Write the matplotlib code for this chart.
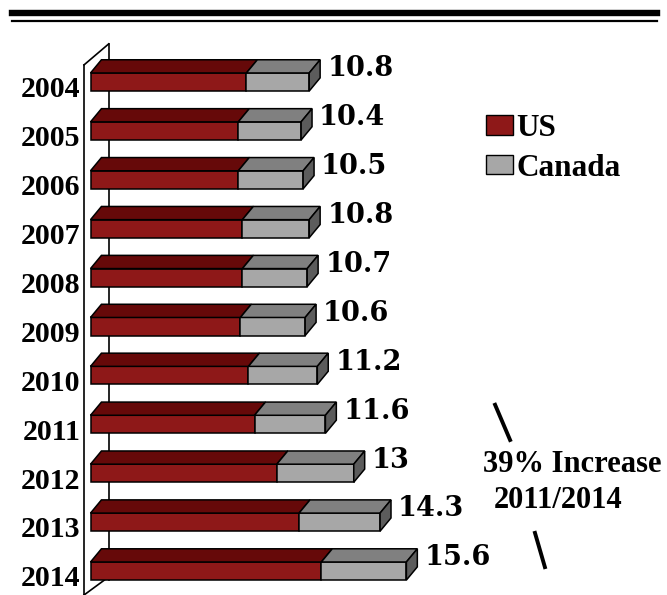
import matplotlib.pyplot as plt
from matplotlib.patches import Polygon, Patch
from matplotlib.lines import Line2D

years = ['2004', '2005', '2006', '2007', '2008', '2009', '2010', '2011', '2012', '2013', '2014']
us = [7.7, 7.3, 7.3, 7.5, 7.5, 7.4, 7.8, 8.1, 9.2, 10.3, 11.4]
canada = [3.1, 3.1, 3.2, 3.3, 3.2, 3.2, 3.4, 3.5, 3.8, 4.0, 4.2]
totals = [10.8, 10.4, 10.5, 10.8, 10.7, 10.6, 11.2, 11.6, 13, 14.3, 15.6]

# colours of the fake 3d faces
red_front, red_top = '#8e1818', '#660909'
grey_front, grey_top, grey_side = '#a7a7a7', '#808080', '#5c5c5c'

# depth of the bars in data units
dx, dy = 0.54, 0.27
h = 0.37

fig = plt.figure(figsize=(6.67, 5.95), dpi=100)
ax = fig.add_axes([0, 0, 1, 1])
ax.set_xlim(-4.47, 28.47)
ax.set_ylim(10.49, -1.677)
ax.axis('off')

# left wall of the 3d chart
ax.plot([-0.32, -0.32], [-0.35, 10.49], color='black', lw=1.2, zorder=1)
ax.plot([0.9, 0.9], [-0.78, 10.18], color='black', lw=1.2, zorder=1)
ax.plot([-0.32, 0.9], [-0.35, -0.78], color='black', lw=1.2, zorder=1)
ax.plot([-0.32, 0.7], [10.49, 10.18], color='black', lw=1.2, zorder=1)


def face(pts, color):
    ax.add_patch(Polygon(pts, closed=True, facecolor=color, edgecolor='black',
                         lw=1.1, zorder=3))


for i, yr in enumerate(years):
    top, bot = i - h / 2, i + h / 2
    u, t = us[i], totals[i]
    # front faces
    face([(0, top), (u, top), (u, bot), (0, bot)], red_front)
    face([(u, top), (t, top), (t, bot), (u, bot)], grey_front)
    # top faces
    face([(0, top), (u, top), (u + dx, top - dy), (dx, top - dy)], red_top)
    face([(u, top), (t, top), (t + dx, top - dy), (u + dx, top - dy)], grey_top)
    # right side
    face([(t, top), (t, bot), (t + dx, bot - dy), (t + dx, top - dy)], grey_side)

    ax.text(-0.5, i + 0.16, yr, ha='right', va='center', fontsize=21.5,
            fontweight='bold', family='Liberation Serif')
    ax.text(t + dx + 0.35, i - 0.27, f'{t:g}', ha='left', va='center',
            fontsize=19.5, fontweight='bold', family='DejaVu Serif')

# legend
handles = [Patch(facecolor=red_front, edgecolor='black', label='US'),
           Patch(facecolor=grey_front, edgecolor='black', label='Canada')]
ax.legend(handles=handles, loc='upper left', bbox_to_anchor=(0.71, 0.83),
          frameon=False, handlelength=0.85, handleheight=0.6, handletextpad=0.12,
          labelspacing=0.35, borderaxespad=0,
          prop={'family': 'Liberation Serif', 'weight': 'bold', 'size': 22.5})

# increase note between 2011 and 2014
i11, i14 = years.index('2011'), years.index('2014')
ax.plot([19.98, 20.72], [i11 - 0.4, i11 + 0.32], color='black', lw=2.8)
ax.plot([21.95, 22.44], [i14 - 0.78, i14 - 0.08], color='black', lw=2.8)
ax.text(19.4, i11 + 0.82, '39% Increase', ha='left', va='center', fontsize=22,
        fontweight='bold', family='Liberation Serif')
ax.text(19.9, i11 + 1.55, '2011/2014', ha='left', va='center', fontsize=22,
        fontweight='bold', family='Liberation Serif')

# double rule at the top
fig.add_artist(Line2D([0.018, 0.985], [1 - 13 / 595, 1 - 13 / 595], color='black', lw=4.6))
fig.add_artist(Line2D([0.018, 0.985], [1 - 21 / 595, 1 - 21 / 595], color='black', lw=1.6))

fig.savefig('out.png', dpi=100, facecolor='white')
